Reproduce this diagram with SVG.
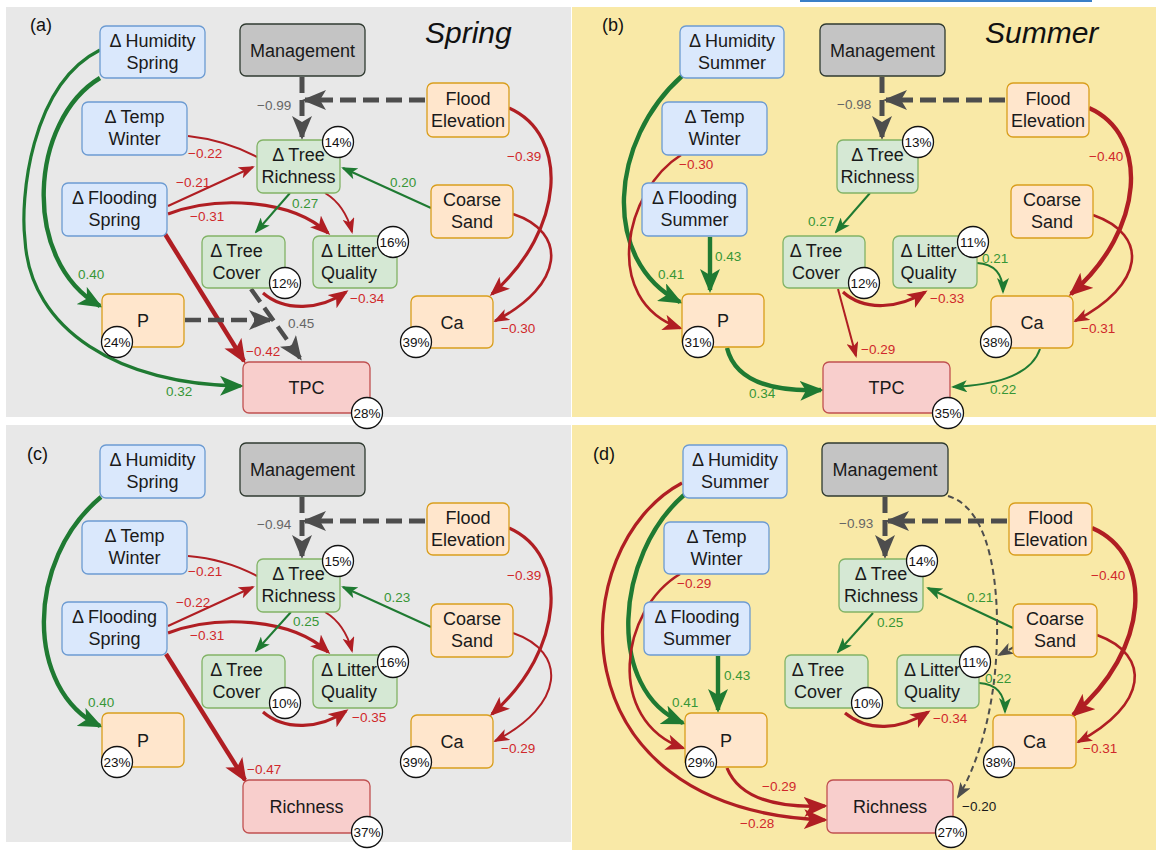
<svg xmlns="http://www.w3.org/2000/svg" width="1156" height="850" viewBox="0 0 1156 850">
<style>
.bgg{fill:#e8e8e8}.bgy{fill:#f9e9a7}
.n rect{stroke-width:1.3}
.blue rect{fill:#dae8fc;stroke:#6c9bd2}
.grn rect{fill:#d5e8d4;stroke:#82b366}
.org rect{fill:#ffe6cc;stroke:#d99e1c}
.pnk rect{fill:#f8cecc;stroke:#c05050}
.mgt rect{fill:#c4c4c4;stroke:#2f3a30}
text{font-family:"Liberation Sans",Arial,Helvetica,sans-serif}
.n text{font-size:18px;text-anchor:middle;fill:#1a1a1a}
.n circle{fill:#fff;stroke:#111;stroke-width:1.3}
.n text.pc{font-size:13.5px;fill:#111}
#connectors path{fill:none}
.r{stroke:#b01e23}.g{stroke:#1f7a32}.k{stroke:#4d4d4d}
.w2{stroke-width:2}.w25{stroke-width:2.6}.w3{stroke-width:3.2}.w4{stroke-width:4.4}.w5{stroke-width:5}
.d{stroke-dasharray:16 7}.dt{stroke-dasharray:6 4}
.l{font-size:13.5px}
.lr{fill:#d0282b}.lg{fill:#379636}.lk{fill:#666}.lb{fill:#1a1a1a}
.panel{font-size:18px;fill:#111}
.season{font-size:30px;font-style:italic;fill:#111}
</style>
<defs>
<marker id="rB" markerUnits="userSpaceOnUse" viewBox="0 0 24 20" markerWidth="24" markerHeight="20" refX="21" refY="10" orient="auto"><path d="M0,0 L24,10 L0,20 L6,10 Z" fill="#b01e23"/></marker>
<marker id="rM" markerUnits="userSpaceOnUse" viewBox="0 0 20 16" markerWidth="20" markerHeight="16" refX="17" refY="8" orient="auto"><path d="M0,0 L20,8 L0,16 L5,8 Z" fill="#b01e23"/></marker>
<marker id="rS" markerUnits="userSpaceOnUse" viewBox="0 0 16 12" markerWidth="16" markerHeight="12" refX="14" refY="6" orient="auto"><path d="M0,0 L16,6 L0,12 L4,6 Z" fill="#b01e23"/></marker>
<marker id="gB" markerUnits="userSpaceOnUse" viewBox="0 0 24 20" markerWidth="24" markerHeight="20" refX="21" refY="10" orient="auto"><path d="M0,0 L24,10 L0,20 L6,10 Z" fill="#1f7a32"/></marker>
<marker id="gS" markerUnits="userSpaceOnUse" viewBox="0 0 16 12" markerWidth="16" markerHeight="12" refX="14" refY="6" orient="auto"><path d="M0,0 L16,6 L0,12 L4,6 Z" fill="#1f7a32"/></marker>
<marker id="kB" markerUnits="userSpaceOnUse" viewBox="0 0 24 20" markerWidth="24" markerHeight="20" refX="21" refY="10" orient="auto"><path d="M0,0 L24,10 L0,20 L6,10 Z" fill="#4d4d4d"/></marker>
<marker id="kS" markerUnits="userSpaceOnUse" viewBox="0 0 16 12" markerWidth="16" markerHeight="12" refX="14" refY="6" orient="auto"><path d="M0,0 L16,6 L0,12 L4,6 Z" fill="#4d4d4d"/></marker>
</defs>
<rect x="0" y="0" width="1156" height="850" fill="#ffffff"/>
<g id="backgrounds">
<rect class="bgg" x="6" y="7" width="565" height="410"/>
<rect class="bgy" x="572" y="7" width="584" height="410"/>
<rect class="bgg" x="6" y="425" width="565" height="417"/>
<rect class="bgy" x="572" y="425" width="584" height="425"/>
<rect x="800" y="0" width="292" height="2" fill="#3a7fc7"/>
</g>
<g id="titles">
<text class="panel" x="30" y="31">(a)</text>
<text class="panel" x="602" y="31">(b)</text>
<text class="panel" x="27" y="460">(c)</text>
<text class="panel" x="593" y="460">(d)</text>
<text class="season" x="425" y="43">Spring</text>
<text class="season" x="985" y="43">Summer</text>
</g>
<g id="connectors">
<!-- panel a -->
<path class="g w4" d="M100,78 C30,120 20,260 100,306" marker-end="url(#gB)"/>
<path class="g w3" d="M100,50 C30,85 20,200 25,240 C30,330 120,385 241,386" marker-end="url(#gB)"/>
<path class="r w2" d="M188,136 Q225,140 257,157"/>
<path class="r w2" d="M168,206 L253,167" marker-end="url(#rS)"/>
<path class="r w3" d="M168,214 C215,196 290,198 328,233" marker-end="url(#rM)"/>
<path class="r w4" d="M165,234 L244,361" marker-end="url(#rB)"/>
<path class="g w2" d="M290,193 L256,232" marker-end="url(#gS)"/>
<path class="r w2" d="M325,193 Q345,205 352,232" marker-end="url(#rS)"/>
<path class="g w2" d="M431,208 L343,168" marker-end="url(#gS)"/>
<path class="r w3" d="M263,293 C285,312 320,310 346,292" marker-end="url(#rM)"/>
<path class="k w4 d" d="M185,320 L270,320" marker-end="url(#kB)"/>
<path class="k w4 d" d="M251,289 L300,358" marker-end="url(#kB)"/>
<path class="r w3" d="M509,108 C570,135 565,230 492,294" marker-end="url(#rM)"/>
<path class="r w25" d="M513,214 C568,232 565,285 495,321" marker-end="url(#rS)"/>
<path class="k w5 d" d="M302,77 L302,137" marker-end="url(#kB)"/>
<path class="k w5 d" d="M425,100 L305,100" marker-end="url(#kB)"/>
<text class="l lk" x="257" y="110">−0.99</text>
<text class="l lr" x="188" y="158">−0.22</text>
<text class="l lr" x="176" y="187">−0.21</text>
<text class="l lr" x="190" y="221">−0.31</text>
<text class="l lg" x="78" y="279">0.40</text>
<text class="l lr" x="246" y="356">−0.42</text>
<text class="l lg" x="166" y="396">0.32</text>
<text class="l lg" x="292" y="208">0.27</text>
<text class="l lg" x="390" y="187">0.20</text>
<text class="l lr" x="350" y="303">−0.34</text>
<text class="l lk" x="288" y="328">0.45</text>
<text class="l lr" x="507" y="161">−0.39</text>
<text class="l lr" x="501" y="333">−0.30</text>
<!-- panel b -->
<path class="k w5 d" d="M882,77 L882,137" marker-end="url(#kB)"/>
<path class="k w5 d" d="M1005,100 L886,100" marker-end="url(#kB)"/>
<path class="g w4" d="M682,76 C610,140 600,260 680,302" marker-end="url(#gB)"/>
<path class="r w25" d="M681,155 C625,190 600,300 680,328" marker-end="url(#rM)"/>
<path class="g w4" d="M710,237 L710,290" marker-end="url(#gB)"/>
<path class="g w2" d="M870,193 L836,232" marker-end="url(#gS)"/>
<path class="r w3" d="M843,292 C865,312 900,308 925,292" marker-end="url(#rM)"/>
<path class="r w2" d="M838,289 L856,356" marker-end="url(#rS)"/>
<path class="g w4" d="M727,348 C735,380 770,392 821,390" marker-end="url(#gB)"/>
<path class="g w2" d="M977,263 C995,264 1003,275 1003,292" marker-end="url(#gS)"/>
<path class="g w2" d="M1040,349 C1030,378 990,385 953,387" marker-end="url(#gS)"/>
<path class="r w4" d="M1089,108 C1150,135 1145,230 1071,294" marker-end="url(#rB)"/>
<path class="r w25" d="M1093,215 C1150,235 1145,285 1075,321" marker-end="url(#rS)"/>
<text class="l lk" x="837" y="109">−0.98</text>
<text class="l lr" x="679" y="169">−0.30</text>
<text class="l lg" x="658" y="279">0.41</text>
<text class="l lg" x="715" y="261">0.43</text>
<text class="l lg" x="749" y="398">0.34</text>
<text class="l lg" x="808" y="226">0.27</text>
<text class="l lr" x="930" y="303">−0.33</text>
<text class="l lr" x="861" y="354">−0.29</text>
<text class="l lg" x="982" y="263">0.21</text>
<text class="l lg" x="990" y="394">0.22</text>
<text class="l lr" x="1089" y="161">−0.40</text>
<text class="l lr" x="1081" y="333">−0.31</text>
<!-- panel c -->
<path class="g w4" d="M101,497 C25,560 25,690 100,726" marker-end="url(#gB)"/>
<path class="r w2" d="M188,556 Q225,559 257,576"/>
<path class="r w2" d="M168,626 L253,587" marker-end="url(#rS)"/>
<path class="r w3" d="M168,633 C215,615 290,617 328,652" marker-end="url(#rM)"/>
<path class="r w4" d="M166,654 L245,780" marker-end="url(#rB)"/>
<path class="g w2" d="M291,612 L256,651" marker-end="url(#gS)"/>
<path class="r w2" d="M325,612 Q345,624 352,651" marker-end="url(#rS)"/>
<path class="g w2" d="M431,627 L343,587" marker-end="url(#gS)"/>
<path class="r w3" d="M263,712 C285,731 320,729 346,711" marker-end="url(#rM)"/>
<path class="r w3" d="M509,528 C570,555 565,650 492,714" marker-end="url(#rM)"/>
<path class="r w2" d="M513,633 C568,652 565,705 495,741" marker-end="url(#rS)"/>
<path class="k w5 d" d="M302,497 L302,556" marker-end="url(#kB)"/>
<path class="k w5 d" d="M425,521 L305,521" marker-end="url(#kB)"/>
<text class="l lk" x="257" y="529">−0.94</text>
<text class="l lr" x="188" y="576">−0.21</text>
<text class="l lr" x="176" y="607">−0.22</text>
<text class="l lr" x="190" y="640">−0.31</text>
<text class="l lg" x="88" y="707">0.40</text>
<text class="l lr" x="247" y="774">−0.47</text>
<text class="l lg" x="293" y="626">0.25</text>
<text class="l lg" x="384" y="602">0.23</text>
<text class="l lr" x="352" y="722">−0.35</text>
<text class="l lr" x="507" y="580">−0.39</text>
<text class="l lr" x="501" y="753">−0.29</text>
<!-- panel d -->
<path class="k w5 d" d="M885,497 L885,556" marker-end="url(#kB)"/>
<path class="k w5 d" d="M1007,521 L888,521" marker-end="url(#kB)"/>
<path class="g w4" d="M684,495 C615,555 605,690 683,723" marker-end="url(#gB)"/>
<path class="r w3" d="M682,483 C565,545 550,810 825,820" marker-end="url(#rB)"/>
<path class="r w25" d="M680,574 C620,610 605,720 683,748" marker-end="url(#rM)"/>
<path class="g w4" d="M718,656 L718,710" marker-end="url(#gB)"/>
<path class="r w3" d="M727,768 C740,800 780,808 825,806" marker-end="url(#rB)"/>
<path class="g w2" d="M873,613 L838,652" marker-end="url(#gS)"/>
<path class="g w2" d="M1013,628 L928,588" marker-end="url(#gS)"/>
<path class="r w3" d="M845,713 C868,732 900,730 928,712" marker-end="url(#rM)"/>
<path class="g w2" d="M979,683 C997,684 1005,695 1005,712" marker-end="url(#gS)"/>
<path class="r w4" d="M1092,528 C1155,555 1150,650 1073,715" marker-end="url(#rB)"/>
<path class="r w25" d="M1097,635 C1152,655 1148,705 1078,742" marker-end="url(#rS)"/>
<path class="k w2 dt" d="M948,496 C995,510 1000,600 996,660 C992,720 975,770 958,797" marker-end="url(#kS)"/>
<path class="k w2 dt" d="M1014,647 L999,655" marker-end="url(#kS)"/>
<text class="l lk" x="839" y="528">−0.93</text>
<text class="l lr" x="677" y="588">−0.29</text>
<text class="l lg" x="672" y="707">0.41</text>
<text class="l lg" x="724" y="680">0.43</text>
<text class="l lr" x="762" y="791">−0.29</text>
<text class="l lr" x="740" y="828">−0.28</text>
<text class="l lg" x="877" y="627">0.25</text>
<text class="l lg" x="967" y="602">0.21</text>
<text class="l lr" x="933" y="723">−0.34</text>
<text class="l lg" x="985" y="683">0.22</text>
<text class="l lr" x="1091" y="580">−0.40</text>
<text class="l lr" x="1083" y="753">−0.31</text>
<text class="l lb" x="962" y="811">−0.20</text>
</g>
<!-- panel a nodes -->
<g id="a-humidity" class="n blue"><rect x="100" y="26" width="105" height="52" rx="6"/><text x="152.5" y="46.5">Δ Humidity</text><text x="152.5" y="68.5">Spring</text></g>
<g id="a-temp" class="n blue"><rect x="82" y="102" width="105" height="53" rx="6"/><text x="134.5" y="123">Δ Temp</text><text x="134.5" y="145">Winter</text></g>
<g id="a-flooding" class="n blue"><rect x="62" y="183" width="105" height="53" rx="6"/><text x="114.5" y="204">Δ Flooding</text><text x="114.5" y="226">Spring</text></g>
<g id="a-management" class="n mgt"><rect x="240" y="24" width="125" height="52" rx="6"/><text x="302.5" y="56.5">Management</text></g>
<g id="a-floodelev" class="n org"><rect x="427" y="83" width="82" height="54" rx="6"/><text x="468" y="104.5">Flood</text><text x="468" y="126.5">Elevation</text></g>
<g id="a-sand" class="n org"><rect x="431" y="185" width="82" height="53" rx="6"/><text x="472" y="206">Coarse</text><text x="472" y="228">Sand</text></g>
<g id="a-treerich" class="n grn"><rect x="257" y="140" width="83" height="53" rx="6"/><text x="298.5" y="161">Δ Tree</text><text x="298.5" y="183">Richness</text><circle cx="338" cy="142" r="15.5"/><text class="pc" x="338" y="146.5">14%</text></g>
<g id="a-treecover" class="n grn"><rect x="202" y="236" width="83" height="52" rx="6"/><text x="236.5" y="256.5">Δ Tree</text><text x="236.5" y="278.5">Cover</text><circle cx="285" cy="283" r="15.5"/><text class="pc" x="285" y="287.5">12%</text></g>
<g id="a-litter" class="n grn"><rect x="313" y="236" width="84" height="52" rx="6"/><text x="349" y="256.5">Δ Litter</text><text x="349" y="278.5">Quality</text><circle cx="393" cy="242" r="15.5"/><text class="pc" x="393" y="246.5">16%</text></g>
<g id="a-p" class="n org"><rect x="102" y="294" width="82" height="53" rx="6"/><text x="143" y="327">P</text><circle cx="117" cy="342" r="15.5"/><text class="pc" x="117" y="346.5">24%</text></g>
<g id="a-ca" class="n org"><rect x="411" y="296" width="82" height="52" rx="6"/><text x="452" y="328.5">Ca</text><circle cx="416" cy="342" r="15.5"/><text class="pc" x="416" y="346.5">39%</text></g>
<g id="a-tpc" class="n pnk"><rect x="243" y="362" width="127" height="51" rx="6"/><text x="306.5" y="394">TPC</text><circle cx="367" cy="413" r="15.5"/><text class="pc" x="367" y="417.5">28%</text></g>
<!-- panel b nodes -->
<g id="b-humidity" class="n blue"><rect x="680" y="26" width="104" height="52" rx="6"/><text x="732" y="46.5">Δ Humidity</text><text x="732" y="68.5">Summer</text></g>
<g id="b-temp" class="n blue"><rect x="662" y="102" width="105" height="53" rx="6"/><text x="714.5" y="123">Δ Temp</text><text x="714.5" y="145">Winter</text></g>
<g id="b-flooding" class="n blue"><rect x="642" y="183" width="105" height="53" rx="6"/><text x="694.5" y="204">Δ Flooding</text><text x="694.5" y="226">Summer</text></g>
<g id="b-management" class="n mgt"><rect x="820" y="24" width="125" height="52" rx="6"/><text x="882.5" y="56.5">Management</text></g>
<g id="b-floodelev" class="n org"><rect x="1007" y="83" width="82" height="54" rx="6"/><text x="1048" y="104.5">Flood</text><text x="1048" y="126.5">Elevation</text></g>
<g id="b-sand" class="n org"><rect x="1011" y="185" width="82" height="53" rx="6"/><text x="1052" y="206">Coarse</text><text x="1052" y="228">Sand</text></g>
<g id="b-treerich" class="n grn"><rect x="837" y="140" width="81" height="53" rx="6"/><text x="877.5" y="161">Δ Tree</text><text x="877.5" y="183">Richness</text><circle cx="918" cy="142" r="15.5"/><text class="pc" x="918" y="146.5">13%</text></g>
<g id="b-treecover" class="n grn"><rect x="783" y="236" width="82" height="52" rx="6"/><text x="816" y="256.5">Δ Tree</text><text x="816" y="278.5">Cover</text><circle cx="864" cy="283" r="15.5"/><text class="pc" x="864" y="287.5">12%</text></g>
<g id="b-litter" class="n grn"><rect x="893" y="236" width="84" height="52" rx="6"/><text x="928.5" y="256.5">Δ Litter</text><text x="928.5" y="278.5">Quality</text><circle cx="973" cy="242" r="15.5"/><text class="pc" x="973" y="246.5">11%</text></g>
<g id="b-p" class="n org"><rect x="682" y="294" width="82" height="53" rx="6"/><text x="723" y="327">P</text><circle cx="698" cy="342" r="15.5"/><text class="pc" x="698" y="346.5">31%</text></g>
<g id="b-ca" class="n org"><rect x="991" y="296" width="82" height="52" rx="6"/><text x="1032" y="328.5">Ca</text><circle cx="996" cy="342" r="15.5"/><text class="pc" x="996" y="346.5">38%</text></g>
<g id="b-tpc" class="n pnk"><rect x="823" y="362" width="127" height="51" rx="6"/><text x="886.5" y="394">TPC</text><circle cx="948" cy="413" r="15.5"/><text class="pc" x="948" y="417.5">35%</text></g>
<!-- panel c nodes -->
<g id="c-humidity" class="n blue"><rect x="100" y="445" width="105" height="53" rx="6"/><text x="152.5" y="466">Δ Humidity</text><text x="152.5" y="488">Spring</text></g>
<g id="c-temp" class="n blue"><rect x="82" y="521" width="105" height="53" rx="6"/><text x="134.5" y="542">Δ Temp</text><text x="134.5" y="564">Winter</text></g>
<g id="c-flooding" class="n blue"><rect x="62" y="602" width="105" height="53" rx="6"/><text x="114.5" y="623">Δ Flooding</text><text x="114.5" y="645">Spring</text></g>
<g id="c-management" class="n mgt"><rect x="240" y="443" width="125" height="53" rx="6"/><text x="302.5" y="476">Management</text></g>
<g id="c-floodelev" class="n org"><rect x="427" y="503" width="82" height="52" rx="6"/><text x="468" y="523.5">Flood</text><text x="468" y="545.5">Elevation</text></g>
<g id="c-sand" class="n org"><rect x="431" y="604" width="82" height="53" rx="6"/><text x="472" y="625">Coarse</text><text x="472" y="647">Sand</text></g>
<g id="c-treerich" class="n grn"><rect x="257" y="559" width="83" height="53" rx="6"/><text x="298.5" y="580">Δ Tree</text><text x="298.5" y="602">Richness</text><circle cx="338" cy="561" r="15.5"/><text class="pc" x="338" y="565.5">15%</text></g>
<g id="c-treecover" class="n grn"><rect x="202" y="655" width="83" height="53" rx="6"/><text x="236.5" y="676">Δ Tree</text><text x="236.5" y="698">Cover</text><circle cx="285" cy="703" r="15.5"/><text class="pc" x="285" y="707.5">10%</text></g>
<g id="c-litter" class="n grn"><rect x="313" y="655" width="84" height="53" rx="6"/><text x="349" y="676">Δ Litter</text><text x="349" y="698">Quality</text><circle cx="393" cy="662" r="15.5"/><text class="pc" x="393" y="666.5">16%</text></g>
<g id="c-p" class="n org"><rect x="102" y="713" width="82" height="54" rx="6"/><text x="143" y="746.5">P</text><circle cx="117" cy="762" r="15.5"/><text class="pc" x="117" y="766.5">23%</text></g>
<g id="c-ca" class="n org"><rect x="411" y="715" width="82" height="53" rx="6"/><text x="452" y="748">Ca</text><circle cx="416" cy="762" r="15.5"/><text class="pc" x="416" y="766.5">39%</text></g>
<g id="c-richness" class="n pnk"><rect x="243" y="780" width="127" height="53" rx="6"/><text x="306.5" y="813">Richness</text><circle cx="367" cy="832" r="15.5"/><text class="pc" x="367" y="836.5">37%</text></g>
<!-- panel d nodes -->
<g id="d-humidity" class="n blue"><rect x="683" y="445" width="104" height="53" rx="6"/><text x="735" y="466">Δ Humidity</text><text x="735" y="488">Summer</text></g>
<g id="d-temp" class="n blue"><rect x="664" y="522" width="105" height="52" rx="6"/><text x="716.5" y="542.5">Δ Temp</text><text x="716.5" y="564.5">Winter</text></g>
<g id="d-flooding" class="n blue"><rect x="644" y="602" width="106" height="53" rx="6"/><text x="697" y="623">Δ Flooding</text><text x="697" y="645">Summer</text></g>
<g id="d-management" class="n mgt"><rect x="822" y="443" width="126" height="53" rx="6"/><text x="885" y="476">Management</text></g>
<g id="d-floodelev" class="n org"><rect x="1009" y="503" width="83" height="52" rx="6"/><text x="1050.5" y="523.5">Flood</text><text x="1050.5" y="545.5">Elevation</text></g>
<g id="d-sand" class="n org"><rect x="1013" y="604" width="84" height="53" rx="6"/><text x="1055" y="625">Coarse</text><text x="1055" y="647">Sand</text></g>
<g id="d-treerich" class="n grn"><rect x="839" y="559" width="84" height="53" rx="6"/><text x="881" y="580">Δ Tree</text><text x="881" y="602">Richness</text><circle cx="922" cy="561" r="15.5"/><text class="pc" x="922" y="565.5">14%</text></g>
<g id="d-treecover" class="n grn"><rect x="785" y="655" width="83" height="53" rx="6"/><text x="818" y="676">Δ Tree</text><text x="818" y="698">Cover</text><circle cx="867" cy="703" r="15.5"/><text class="pc" x="867" y="707.5">10%</text></g>
<g id="d-litter" class="n grn"><rect x="897" y="655" width="82" height="53" rx="6"/><text x="932" y="676">Δ Litter</text><text x="932" y="698">Quality</text><circle cx="975" cy="662" r="15.5"/><text class="pc" x="975" y="666.5">11%</text></g>
<g id="d-p" class="n org"><rect x="685" y="713" width="82" height="54" rx="6"/><text x="726" y="746.5">P</text><circle cx="701" cy="762" r="15.5"/><text class="pc" x="701" y="766.5">29%</text></g>
<g id="d-ca" class="n org"><rect x="993" y="715" width="83" height="53" rx="6"/><text x="1034.5" y="748">Ca</text><circle cx="999" cy="762" r="15.5"/><text class="pc" x="999" y="766.5">38%</text></g>
<g id="d-richness" class="n pnk"><rect x="827" y="780" width="126" height="53" rx="6"/><text x="890" y="813">Richness</text><circle cx="951" cy="832" r="15.5"/><text class="pc" x="951" y="836.5">27%</text></g>
</svg>
